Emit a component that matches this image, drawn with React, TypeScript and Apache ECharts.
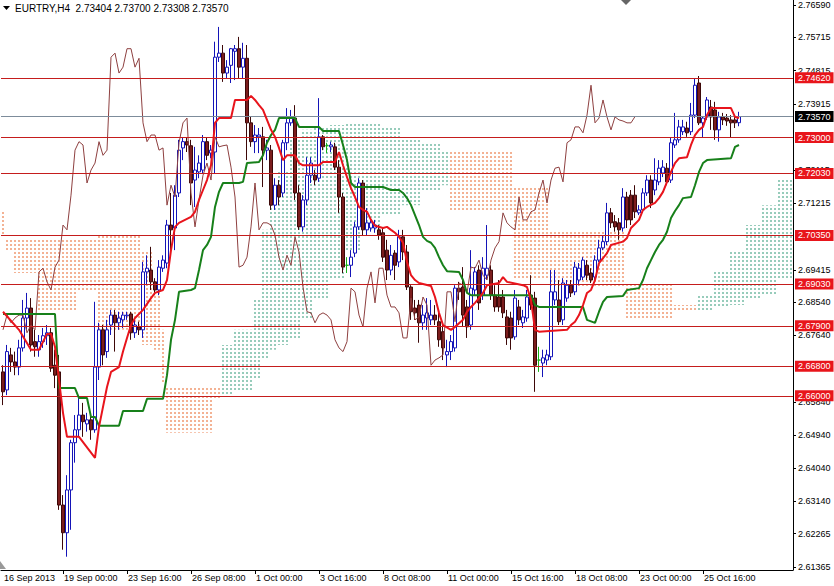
import React, { useEffect, useRef } from 'react';
import * as echarts from 'echarts';

const SYMBOL = 'EURTRY,H4';
const HEADER_OHLC = [2.73404, 2.737, 2.73308, 2.7357];
const N_SLOTS = 198;
const CHIKOU_SHIFT = 26;

// [open, close, low, high]
const OHLC: number[][] = [
  [2.6665, 2.6611, 2.6575, 2.6683], [2.6616, 2.6720, 2.6602, 2.6738], [2.6711, 2.6692, 2.6665, 2.6730], [2.6692, 2.6678, 2.6656, 2.6720],
  [2.6678, 2.6730, 2.6656, 2.6752], [2.6730, 2.6811, 2.6720, 2.6860], [2.6811, 2.6838, 2.6779, 2.6879], [2.6838, 2.6738, 2.6720, 2.6865],
  [2.6747, 2.6733, 2.6706, 2.6779], [2.6725, 2.6747, 2.6706, 2.6765], [2.6747, 2.6763, 2.6730, 2.6784], [2.6763, 2.6771, 2.6738, 2.6792],
  [2.6771, 2.6675, 2.6665, 2.6784], [2.6683, 2.6656, 2.6621, 2.6725], [2.6665, 2.6304, 2.6291, 2.6711], [2.6304, 2.6229, 2.6183, 2.6331],
  [2.6229, 2.6345, 2.6164, 2.6385], [2.6345, 2.6473, 2.6237, 2.6481], [2.6473, 2.6508, 2.6419, 2.6548], [2.6508, 2.6548, 2.6489, 2.6594],
  [2.6548, 2.6530, 2.6489, 2.6581], [2.6524, 2.6535, 2.6503, 2.6554], [2.6535, 2.6508, 2.6481, 2.6543], [2.6508, 2.6678, 2.6500, 2.6855],
  [2.6678, 2.6779, 2.6643, 2.6798], [2.6779, 2.6711, 2.6683, 2.6792], [2.6720, 2.6779, 2.6703, 2.6806], [2.6792, 2.6819, 2.6765, 2.6833],
  [2.6819, 2.6798, 2.6720, 2.6833], [2.6798, 2.6811, 2.6779, 2.6828], [2.6806, 2.6819, 2.6784, 2.6828], [2.6817, 2.6819, 2.6806, 2.6828],
  [2.6822, 2.6771, 2.6752, 2.6828], [2.6771, 2.6792, 2.6757, 2.6811], [2.6787, 2.6779, 2.6765, 2.6801], [2.6779, 2.6936, 2.6757, 2.6963],
  [2.6936, 2.6946, 2.6900, 2.6981], [2.6941, 2.6909, 2.6887, 2.7004], [2.6909, 2.6887, 2.6873, 2.6919], [2.6887, 2.6949, 2.6873, 2.6968],
  [2.6946, 2.6968, 2.6936, 2.6981], [2.6960, 2.7063, 2.6946, 2.7077], [2.7063, 2.7050, 2.6995, 2.7150], [2.7055, 2.7144, 2.6995, 2.7171],
  [2.7150, 2.7266, 2.7139, 2.7294], [2.7272, 2.7289, 2.7239, 2.7299], [2.7289, 2.7280, 2.7261, 2.7299], [2.7278, 2.7177, 2.7117, 2.7294],
  [2.7185, 2.7212, 2.7112, 2.7275], [2.7207, 2.7231, 2.7190, 2.7252], [2.7212, 2.7289, 2.7204, 2.7307], [2.7289, 2.7252, 2.7239, 2.7299],
  [2.7258, 2.7266, 2.7244, 2.7280], [2.7261, 2.7518, 2.7204, 2.7560], [2.7518, 2.7529, 2.7505, 2.7600], [2.7529, 2.7475, 2.7451, 2.7551],
  [2.7475, 2.7491, 2.7461, 2.7510], [2.7496, 2.7541, 2.7448, 2.7543], [2.7534, 2.7541, 2.7456, 2.7551], [2.7541, 2.7491, 2.7461, 2.7573],
  [2.7491, 2.7515, 2.7461, 2.7557], [2.7515, 2.7340, 2.7239, 2.7551], [2.7340, 2.7289, 2.7275, 2.7356], [2.7289, 2.7307, 2.7258, 2.7334],
  [2.7302, 2.7307, 2.7258, 2.7326], [2.7302, 2.7266, 2.7166, 2.7329], [2.7266, 2.7272, 2.7239, 2.7294], [2.7266, 2.7117, 2.7104, 2.7280],
  [2.7117, 2.7171, 2.7104, 2.7190], [2.7171, 2.7139, 2.7117, 2.7185], [2.7150, 2.7286, 2.7139, 2.7294], [2.7286, 2.7340, 2.7266, 2.7380],
  [2.7340, 2.7353, 2.7332, 2.7375], [2.7353, 2.7150, 2.7131, 2.7388], [2.7150, 2.7058, 2.7050, 2.7171], [2.7058, 2.7131, 2.7045, 2.7144],
  [2.7131, 2.7198, 2.7117, 2.7247], [2.7198, 2.7231, 2.7177, 2.7247], [2.7198, 2.7185, 2.7171, 2.7212], [2.7190, 2.7302, 2.7180, 2.7407],
  [2.7302, 2.7275, 2.7266, 2.7307], [2.7278, 2.7278, 2.7258, 2.7286], [2.7275, 2.7280, 2.7261, 2.7289], [2.7275, 2.7220, 2.7212, 2.7286],
  [2.7220, 2.7139, 2.7096, 2.7239], [2.7139, 2.6949, 2.6933, 2.7150], [2.6954, 2.6954, 2.6933, 2.6976], [2.6954, 2.6976, 2.6922, 2.6995],
  [2.6987, 2.7058, 2.6976, 2.7072], [2.7058, 2.7177, 2.7050, 2.7190], [2.7177, 2.7050, 2.7036, 2.7185], [2.7050, 2.7069, 2.7036, 2.7109],
  [2.7055, 2.7069, 2.7045, 2.7082], [2.7055, 2.7063, 2.7042, 2.7077], [2.7050, 2.7036, 2.7023, 2.7063], [2.7042, 2.6976, 2.6963, 2.7055],
  [2.6995, 2.6941, 2.6914, 2.7023], [2.6941, 2.6981, 2.6927, 2.7009], [2.6987, 2.6954, 2.6914, 2.6995], [2.6963, 2.7031, 2.6949, 2.7050],
  [2.7031, 2.6990, 2.6968, 2.7050], [2.6990, 2.6895, 2.6887, 2.7009], [2.6895, 2.6828, 2.6806, 2.6900], [2.6838, 2.6825, 2.6806, 2.6860],
  [2.6846, 2.6798, 2.6744, 2.6860], [2.6798, 2.6819, 2.6779, 2.6846], [2.6811, 2.6825, 2.6779, 2.6865], [2.6806, 2.6819, 2.6792, 2.6860],
  [2.6819, 2.6806, 2.6792, 2.6846], [2.6801, 2.6752, 2.6733, 2.6833], [2.6774, 2.6730, 2.6697, 2.6792], [2.6711, 2.6720, 2.6678, 2.6752],
  [2.6720, 2.6747, 2.6697, 2.6765], [2.6730, 2.6892, 2.6720, 2.6900], [2.6892, 2.6882, 2.6860, 2.6909], [2.6895, 2.6819, 2.6787, 2.6949],
  [2.6841, 2.6787, 2.6757, 2.6860], [2.6792, 2.6892, 2.6779, 2.6995], [2.6887, 2.6936, 2.6873, 2.6949], [2.6941, 2.6852, 2.6833, 2.6954],
  [2.6873, 2.6946, 2.6860, 2.6976], [2.6927, 2.6946, 2.6914, 2.7063], [2.6941, 2.6873, 2.6860, 2.6954], [2.6873, 2.6841, 2.6828, 2.6900],
  [2.6868, 2.6841, 2.6828, 2.6914], [2.6868, 2.6825, 2.6811, 2.6887], [2.6814, 2.6757, 2.6738, 2.6833], [2.6811, 2.6757, 2.6725, 2.6828],
  [2.6760, 2.6865, 2.6752, 2.6887], [2.6841, 2.6806, 2.6792, 2.6860], [2.6798, 2.6814, 2.6784, 2.6833], [2.6811, 2.6868, 2.6801, 2.6887],
  [2.6873, 2.6846, 2.6833, 2.6927], [2.6865, 2.6683, 2.6611, 2.6882], [2.6697, 2.6697, 2.6665, 2.6733], [2.6689, 2.6703, 2.6651, 2.6725],
  [2.6697, 2.6711, 2.6683, 2.6725], [2.6706, 2.6882, 2.6697, 2.6941], [2.6860, 2.6882, 2.6846, 2.6941], [2.6860, 2.6801, 2.6792, 2.6914],
  [2.6806, 2.6906, 2.6792, 2.6919], [2.6865, 2.6900, 2.6855, 2.6914], [2.6900, 2.6879, 2.6868, 2.6914], [2.6882, 2.6949, 2.6873, 2.6963],
  [2.6914, 2.6946, 2.6900, 2.6960], [2.6922, 2.6968, 2.6914, 2.6976], [2.6954, 2.6927, 2.6914, 2.6968], [2.6933, 2.6914, 2.6906, 2.6946],
  [2.6922, 2.6968, 2.6909, 2.6981], [2.6968, 2.7001, 2.6963, 2.7023], [2.7001, 2.7018, 2.6995, 2.7036], [2.7018, 2.7096, 2.7009, 2.7123],
  [2.7096, 2.7069, 2.7055, 2.7109], [2.7072, 2.7058, 2.7045, 2.7090], [2.7069, 2.7050, 2.7023, 2.7082], [2.7055, 2.7139, 2.7045, 2.7163],
  [2.7139, 2.7077, 2.7055, 2.7153], [2.7144, 2.7077, 2.7063, 2.7158], [2.7144, 2.7099, 2.7082, 2.7171], [2.7096, 2.7104, 2.7090, 2.7117],
  [2.7104, 2.7150, 2.7096, 2.7163], [2.7150, 2.7185, 2.7142, 2.7198], [2.7185, 2.7123, 2.7109, 2.7198], [2.7158, 2.7185, 2.7144, 2.7244],
  [2.7180, 2.7217, 2.7171, 2.7239], [2.7204, 2.7220, 2.7193, 2.7239], [2.7217, 2.7180, 2.7171, 2.7231], [2.7185, 2.7286, 2.7177, 2.7299],
  [2.7280, 2.7294, 2.7272, 2.7367], [2.7294, 2.7329, 2.7286, 2.7348], [2.7316, 2.7329, 2.7307, 2.7348], [2.7326, 2.7313, 2.7302, 2.7343],
  [2.7316, 2.7361, 2.7307, 2.7394], [2.7361, 2.7442, 2.7353, 2.7461], [2.7448, 2.7340, 2.7334, 2.7467], [2.7340, 2.7353, 2.7299, 2.7356],
  [2.7356, 2.7402, 2.7348, 2.7410], [2.7383, 2.7356, 2.7321, 2.7402], [2.7375, 2.7321, 2.7294, 2.7397], [2.7321, 2.7356, 2.7289, 2.7370],
  [2.7356, 2.7348, 2.7334, 2.7367], [2.7353, 2.7345, 2.7332, 2.7364], [2.7348, 2.7340, 2.7299, 2.7361], [2.7348, 2.7340, 2.7326, 2.7359],
  [2.73404, 2.7357, 2.73308, 2.737],
];

// Tenkan-sen (red) [bar, price]
const TENKAN: number[][] = [
  [0, 2.6828], [4, 2.6779], [7, 2.6725], [9, 2.6725], [11, 2.6768], [12, 2.6768], [13, 2.6733], [14, 2.6643], [15, 2.6554],
  [16, 2.6489], [19, 2.6489], [23, 2.6432], [24, 2.6516], [26, 2.6624], [27, 2.6665], [29, 2.6678], [30, 2.6720], [31, 2.6757],
  [32, 2.6792], [33, 2.6811], [35, 2.6833], [37, 2.6865], [38, 2.6879], [40, 2.6887], [41, 2.6914], [42, 2.6995], [43, 2.7058],
  [44, 2.7069], [47, 2.7085], [48, 2.7099], [49, 2.7131], [50, 2.7158], [51, 2.7185], [52, 2.7225], [53, 2.7340], [54, 2.7353],
  [57, 2.7353], [58, 2.7402], [61, 2.7402], [62, 2.7413], [63, 2.7402], [64, 2.7388], [65, 2.7375], [66, 2.7348], [67, 2.7321],
  [68, 2.7302], [69, 2.7272], [70, 2.7239], [71, 2.7252], [73, 2.7252], [74, 2.7231], [75, 2.7225], [79, 2.7225], [80, 2.7234],
  [83, 2.7234], [84, 2.7261], [85, 2.7225], [86, 2.7193], [87, 2.7163], [88, 2.7139], [89, 2.7112], [90, 2.7104], [91, 2.7099],
  [92, 2.7077], [93, 2.7061], [95, 2.7055], [96, 2.7058], [97, 2.7050], [98, 2.7042], [99, 2.7031], [100, 2.7015], [101, 2.6963],
  [102, 2.6927], [103, 2.6914], [104, 2.6906], [107, 2.6898], [108, 2.6868], [109, 2.6825], [110, 2.6792], [112, 2.6779],
  [113, 2.6787], [115, 2.6806], [116, 2.6828], [117, 2.6841], [118, 2.6852], [119, 2.6865], [120, 2.6879], [121, 2.6900],
  [124, 2.6906], [125, 2.6922], [126, 2.6909], [130, 2.6900], [131, 2.6895], [132, 2.6860], [133, 2.6779], [134, 2.6774],
  [141, 2.6779], [142, 2.6792], [143, 2.6801], [144, 2.6819], [145, 2.6846], [146, 2.6879], [147, 2.6887], [148, 2.6914],
  [149, 2.6960], [150, 2.6973], [151, 2.6987], [152, 2.7009], [155, 2.7018], [156, 2.7028], [157, 2.7055], [158, 2.7066],
  [159, 2.7077], [160, 2.7104], [161, 2.7112], [163, 2.7123], [164, 2.7136], [165, 2.7153], [166, 2.7180], [167, 2.7207],
  [168, 2.7231], [169, 2.7244], [171, 2.7247], [172, 2.7280], [173, 2.7307], [174, 2.7321], [175, 2.7329], [176, 2.7361],
  [177, 2.7380], [182, 2.7380], [183, 2.7356], [184, 2.7353],
];

// Kijun-sen (green) [bar, price]
const KIJUN: number[][] = [
  [0, 2.6822], [13, 2.6822], [14, 2.6621], [18, 2.6621], [19, 2.6594], [21, 2.6594], [22, 2.6543], [23, 2.6543], [24, 2.6519],
  [29, 2.6519], [30, 2.6559], [35, 2.6559], [36, 2.6592], [40, 2.6592], [41, 2.6656], [42, 2.6752], [43, 2.6806], [44, 2.6882],
  [47, 2.6887], [48, 2.6892], [49, 2.6941], [50, 2.6995], [51, 2.7009], [52, 2.7031], [53, 2.7112], [54, 2.7153], [55, 2.7177],
  [59, 2.7177], [60, 2.7180], [61, 2.7231], [64, 2.7234], [65, 2.7252], [66, 2.7286], [67, 2.7307], [68, 2.7321], [69, 2.7353],
  [73, 2.7353], [74, 2.7329], [79, 2.7329], [80, 2.7318], [84, 2.7318], [85, 2.7280], [86, 2.7239], [87, 2.7177], [88, 2.7166],
  [95, 2.7166], [97, 2.7158], [99, 2.7158], [100, 2.7150], [101, 2.7136], [102, 2.7117], [103, 2.7090], [104, 2.7063],
  [105, 2.7031], [106, 2.7020], [107, 2.7015], [108, 2.7001], [109, 2.6976], [110, 2.6954], [111, 2.6938], [114, 2.6936],
  [115, 2.6914], [116, 2.6879], [117, 2.6873], [132, 2.6873], [133, 2.6846], [134, 2.6841], [145, 2.6841], [146, 2.6806],
  [148, 2.6798], [149, 2.6828], [150, 2.6855], [151, 2.6868], [155, 2.6871], [156, 2.6887], [159, 2.6892], [160, 2.6914],
  [161, 2.6946], [162, 2.6968], [163, 2.6990], [164, 2.7009], [165, 2.7023], [166, 2.7045], [167, 2.7082], [168, 2.7101],
  [169, 2.7117], [170, 2.7136], [172, 2.7139], [173, 2.7171], [174, 2.7207], [175, 2.7231], [176, 2.7239], [182, 2.7244],
  [183, 2.7275], [184, 2.7280],
];

// Kumo: [fromBar, toBar, senkouA, senkouB]
const KUMO_RUNS: number[][] = [
  [0, 0, 2.7036, 2.7099], [1, 2, 2.6995, 2.7028], [3, 8, 2.6933, 2.7028], [9, 18, 2.6833, 2.7028], [19, 23, 2.6887, 2.7028],
  [24, 34, 2.6779, 2.7033], [35, 37, 2.6738, 2.6995], [38, 39, 2.6725, 2.6900], [40, 40, 2.6635, 2.6779], [41, 52, 2.6500, 2.6624],
  [53, 54, 2.6589, 2.6624], [55, 57, 2.6738, 2.6602], [58, 62, 2.6779, 2.6616], [63, 64, 2.6860, 2.6643], [65, 66, 2.7050, 2.6697],
  [67, 68, 2.7131, 2.6725], [69, 71, 2.7212, 2.6738], [72, 74, 2.7294, 2.6752], [75, 77, 2.7321, 2.6806], [78, 81, 2.7326, 2.6860],
  [82, 85, 2.7334, 2.6914], [86, 89, 2.7340, 2.6995], [90, 94, 2.7340, 2.7050], [95, 99, 2.7326, 2.7090], [100, 104, 2.7294, 2.7117],
  [105, 109, 2.7286, 2.7158], [110, 111, 2.7266, 2.7171], [112, 127, 2.7104, 2.7261], [128, 136, 2.6914, 2.7166], [137, 155, 2.6895, 2.7045],
  [156, 167, 2.6811, 2.6906], [168, 173, 2.6828, 2.6846], [174, 177, 2.6873, 2.6833], [178, 181, 2.6941, 2.6838], [182, 185, 2.6995, 2.6846],
  [186, 189, 2.7063, 2.6860], [190, 193, 2.7117, 2.6873], [194, 197, 2.7185, 2.6914],
];

const LEVELS = [2.7462, 2.73, 2.7203, 2.7035, 2.6903, 2.679, 2.668, 2.66];
const LAST_PRICE = 2.7357;

const Y_TICKS = [2.7659, 2.75715, 2.74815, 2.73915, 2.72115, 2.71215, 2.69415, 2.6854, 2.6764, 2.6584, 2.6494, 2.6404, 2.6314, 2.62265, 2.61365];
const X_LABEL_INDEX = [0, 15, 31, 47, 63, 79, 95, 111, 127, 143, 159, 175];
const X_LABEL_TEXT = ['16 Sep 2013', '19 Sep 00:00', '23 Sep 16:00', '26 Sep 08:00', '1 Oct 00:00', '3 Oct 16:00', '8 Oct 08:00', '11 Oct 00:00', '15 Oct 16:00', '18 Oct 08:00', '23 Oct 00:00', '25 Oct 16:00'];

const FONT = '"Liberation Sans", Arial, sans-serif';
const ORANGE = 'rgb(232,102,42)';
const TEAL = 'rgb(47,154,120)';
const DOJI = '#19b019';

export default function App() {
  const ref = useRef<HTMLDivElement>(null);
  useEffect(() => {
    const chart = echarts.init(ref.current as HTMLDivElement, null, { renderer: 'svg' });
    const cats = Array.from({ length: N_SLOTS }, (_, i) => String(i));
    const labelMap: Record<number, string> = {};
    X_LABEL_INDEX.forEach((idx, k) => { labelMap[idx] = X_LABEL_TEXT[k]; });
    const tickSet = new Set(X_LABEL_INDEX.filter((i) => i > 0));

    const chikou: number[][] = [];
    for (let i = 0; i + CHIKOU_SHIFT < OHLC.length; i++) chikou.push([i, OHLC[i + CHIKOU_SHIFT][1]]);

    const candleData = OHLC.map((d) =>
      d[0] === d[1]
        ? { value: d, itemStyle: { color: DOJI, color0: DOJI, borderColor: DOJI, borderColor0: DOJI } }
        : d
    );

    const mkLabel = (v: number, bg: string) => ({
      show: true, position: 'end', distance: 2, formatter: v.toFixed(5),
      backgroundColor: bg, color: '#ffffff', fontSize: 9, fontFamily: FONT, padding: [1, 3, 1, 3],
    });
    const levelLines: any[] = LEVELS.map((v) => ({
      yAxis: v,
      lineStyle: { color: '#c51d1d', width: 1, type: 'solid' },
      label: mkLabel(v, '#e8151b'),
    }));
    levelLines.push({
      yAxis: LAST_PRICE,
      lineStyle: { color: '#7d8c9b', width: 1, type: 'solid' },
      label: mkLabel(LAST_PRICE, '#000000'),
    });

    // Kumo as stacked bars: transparent base up to the lower span, dotted (decal) body up to the upper span
    const kumoBase: (number | null)[] = new Array(N_SLOTS).fill(null);
    const kumoUp: (number | null)[] = new Array(N_SLOTS).fill(null);
    const kumoDown: (number | null)[] = new Array(N_SLOTS).fill(null);
    KUMO_RUNS.forEach(([from, to, sa, sb]) => {
      for (let i = from; i <= to && i < N_SLOTS; i++) {
        kumoBase[i] = Math.min(sa, sb);
        if (sa > sb) kumoUp[i] = sa - sb; else kumoDown[i] = sb - sa;
      }
    });

    const dotDecal = (c: string) => ({
      symbol: 'rect', symbolSize: 1, color: c, dashArrayX: [1, 0], dashArrayY: [2, 2], rotation: 0,
    });

    const option: any = {
      animation: false,
      backgroundColor: '#ffffff',
      grid: { left: 1, right: 41, top: 0, bottom: 16, containLabel: false },
      xAxis: {
        type: 'category', data: cats, boundaryGap: true,
        axisLine: { show: true, lineStyle: { color: '#000', width: 1 } },
        axisTick: { show: true, alignWithLabel: true, length: 4, interval: (i: number) => tickSet.has(i), lineStyle: { color: '#000' } },
        axisLabel: {
          interval: (i: number) => labelMap[i] !== undefined,
          formatter: (_v: string, i: number) => labelMap[i] || '',
          align: 'left', margin: 3, color: '#000', fontSize: 9, fontFamily: FONT, padding: [0, 0, 0, 1],
        },
        splitLine: { show: false },
      },
      yAxis: {
        type: 'value', position: 'right', min: 2.6128, max: 2.7673, scale: true,
        axisLine: { show: true, lineStyle: { color: '#000', width: 1 } },
        axisTick: { show: true, length: 3, customValues: Y_TICKS, lineStyle: { color: '#000' } },
        axisLabel: { customValues: Y_TICKS, formatter: (v: number) => v.toFixed(5), color: '#000', fontSize: 9, fontFamily: FONT, margin: 5 },
        splitLine: { show: false },
      },
      series: [
        {
          type: 'bar', name: 'kumoBase', stack: 'kumo', data: kumoBase, barWidth: 1, z: 1, silent: true,
          itemStyle: { color: 'rgba(0,0,0,0)' },
        },
        {
          type: 'bar', name: 'kumoUp', stack: 'kumo', data: kumoUp, barWidth: 1, z: 1, silent: true,
          itemStyle: { color: 'rgba(0,0,0,0)', decal: dotDecal(TEAL) },
        },
        {
          type: 'bar', name: 'kumoDown', stack: 'kumo', data: kumoDown, barWidth: 1, z: 1, silent: true,
          itemStyle: { color: 'rgba(0,0,0,0)', decal: dotDecal(ORANGE) },
        },
        {
          type: 'line', name: 'levels', data: [], z: 2, symbol: 'none',
          markLine: { silent: true, symbol: ['none', 'none'], precision: 5, animation: false, data: levelLines },
        },
        {
          type: 'candlestick', name: SYMBOL, data: candleData, barWidth: 3, z: 3,
          itemStyle: { color: '#ffffff', color0: '#7b1d1d', borderColor: '#1414b8', borderColor0: '#3d0808', borderWidth: 1 },
        },
        { type: 'line', name: 'chikou', data: chikou, symbol: 'none', z: 4, lineStyle: { color: '#8e4040', width: 1 } },
        { type: 'line', name: 'kijun', data: KIJUN, symbol: 'none', z: 5, lineStyle: { color: '#17801a', width: 2 } },
        { type: 'line', name: 'tenkan', data: TENKAN, symbol: 'none', z: 6, lineStyle: { color: '#e8141c', width: 2 } },
      ],
      graphic: [
        { type: 'polygon', shape: { points: [[3, 6], [10, 6], [6.5, 10]] }, style: { fill: '#000' }, silent: true, z: 10 },
        {
          type: 'text', left: 15, top: 3, z: 10,
          style: { text: `${SYMBOL}  ${HEADER_OHLC.map((v) => v.toFixed(5)).join(' ')}`, fill: '#000', font: `10px ${FONT}` },
          silent: true,
        },
        { type: 'polygon', shape: { points: [[621, 0], [631, 0], [626, 5]] }, style: { fill: '#666' }, silent: true, z: 10 },
        { type: 'polygon', shape: { points: [[0, 561], [0, 569], [6, 569]] }, style: { fill: '#999' }, silent: true, z: 10 },
      ],
    };
    chart.setOption(option);
    return () => chart.dispose();
  }, []);
  return <div ref={ref} style={{ position: 'fixed', left: 0, top: 0, width: 834, height: 586, background: '#fff' }} />;
}
